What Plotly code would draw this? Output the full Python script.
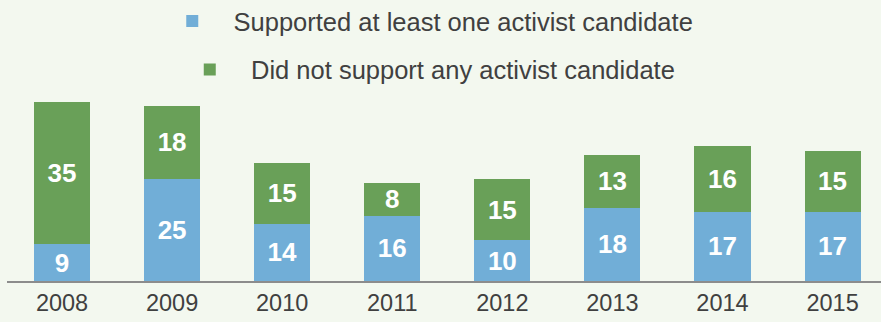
import plotly.graph_objects as go

years = ["2008", "2009", "2010", "2011", "2012", "2013", "2014", "2015"]
supported = [9, 25, 14, 16, 10, 18, 17, 17]
not_supported = [35, 18, 15, 8, 15, 13, 16, 15]

BG = "#F3F8EF"
BLUE = "#71AED7"
GREEN = "#69A058"
TXT = "#404040"
FONT = "Liberation Sans, Arial, sans-serif"
PAD = "\u00a0" * 3

fig = go.Figure()
fig.add_trace(go.Bar(
    x=years, y=supported, name=PAD + "Supported at least one activist candidate",
    marker=dict(color=BLUE, line=dict(width=0)),
    text=supported, textposition="inside", insidetextanchor="middle",
    constraintext="none", textangle=0,
    textfont=dict(color="white", size=26, family=FONT, weight="bold"),
    legend="legend",
))
fig.add_trace(go.Bar(
    x=years, y=not_supported, name=PAD + "Did not support any activist candidate",
    marker=dict(color=GREEN, line=dict(width=0)),
    text=not_supported, textposition="inside", insidetextanchor="middle",
    constraintext="none", textangle=0,
    textfont=dict(color="white", size=26, family=FONT, weight="bold"),
    legend="legend2",
))

legend_common = dict(
    xanchor="center", x=0.49, yanchor="middle",
    bgcolor="rgba(0,0,0,0)",
    font=dict(size=25.5, color=TXT, family=FONT),
)
fig.update_layout(
    width=881, height=322,
    barmode="stack", bargap=0.49,
    paper_bgcolor=BG, plot_bgcolor=BG,
    margin=dict(l=7, r=0, t=95, b=41, autoexpand=False),
    font=dict(family=FONT, color=TXT),
    showlegend=True,
    legend=dict(y=1.395, **legend_common),
    legend2=dict(y=1.135, **legend_common),
    xaxis=dict(
        range=[-0.5, 7.44], showgrid=False, zeroline=False,
        showline=True, linecolor="#8C8C8C", linewidth=2,
        ticks="", tickfont=dict(size=23.5, color=TXT, family=FONT),
        fixedrange=True,
    ),
    yaxis=dict(
        range=[0, 45.62], visible=False, showgrid=False, zeroline=False,
    ),
)

fig.write_html("out.html")
